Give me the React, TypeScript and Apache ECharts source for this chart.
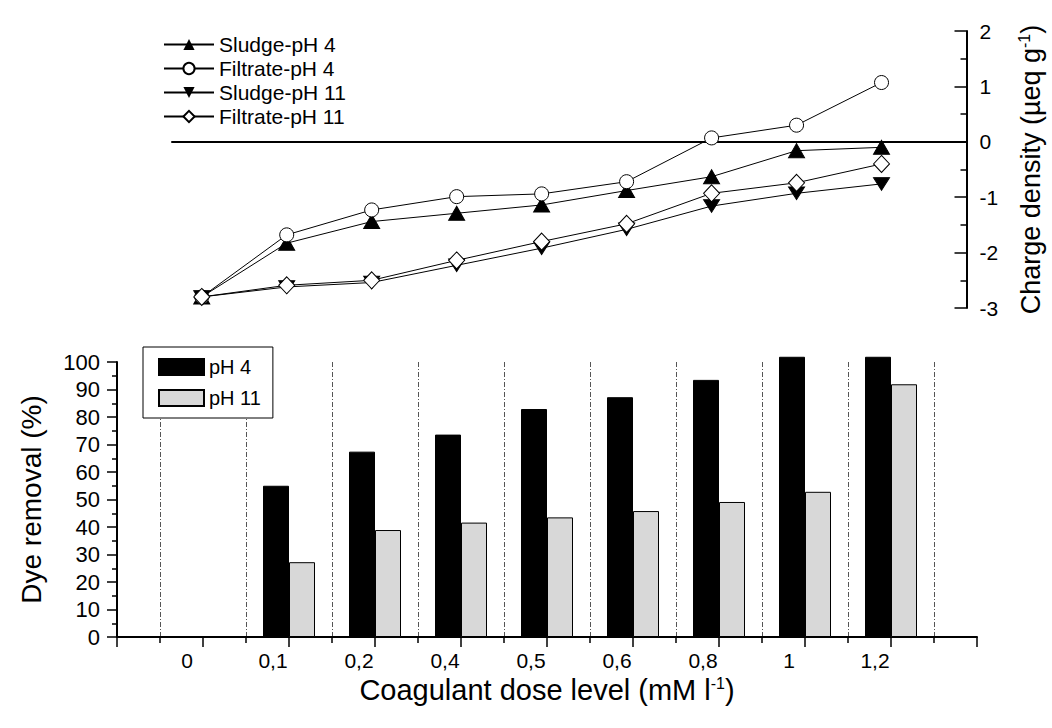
import React, { useEffect, useRef } from 'react';
import * as echarts from 'echarts';

const categories = ['0', '0,1', '0,2', '0,4', '0,5', '0,6', '0,8', '1', '1,2'];

const sludgePH4 = [-2.8, -1.83, -1.44, -1.29, -1.14, -0.88, -0.63, -0.16, -0.1];
const filtratePH4 = [-2.8, -1.68, -1.23, -0.99, -0.94, -0.72, 0.07, 0.3, 1.07];
const sludgePH11 = [-2.8, -2.62, -2.54, -2.23, -1.92, -1.58, -1.16, -0.93, -0.76];
const filtratePH11 = [-2.8, -2.59, -2.5, -2.14, -1.8, -1.48, -0.93, -0.74, -0.4];

const dyePH4 = [0, 55.0, 67.4, 73.6, 82.9, 87.2, 93.5, 101.9, 101.9];
const dyePH11 = [0, 27.2, 38.9, 41.6, 43.5, 45.8, 49.1, 52.8, 91.9];

const chargeTicks = [-3, -2, -1, 0, 1, 2];
const dyeTicks = [0, 10, 20, 30, 40, 50, 60, 70, 80, 90, 100];

const FONT = "'Liberation Sans', Arial, Helvetica, sans-serif";

function buildOption() {
  const lineBase = {
    type: 'line',
    xAxisIndex: 0,
    yAxisIndex: 0,
    lineStyle: { color: '#000', width: 1 },
    symbolKeepAspect: true,
  };
  const sup = { fontSize: 16, fontFamily: FONT, color: '#000', padding: [0, 0, 12, 0] };
  return {
    animation: false,
    backgroundColor: '#fff',
    textStyle: { fontFamily: FONT, color: '#000' },
    grid: [
      { left: 172, top: 31, width: 798, height: 277 },
      { left: 117, top: 362, width: 860, height: 275 },
    ],
    legend: [
      {
        data: ['Sludge-pH 4', 'Filtrate-pH 4', 'Sludge-pH 11', 'Filtrate-pH 11'],
        orient: 'vertical',
        left: 163,
        top: 34,
        padding: 0,
        itemWidth: 50,
        itemHeight: 14,
        itemGap: 3,
        textStyle: { fontSize: 21, fontFamily: FONT, color: '#000' },
      },
      {
        data: ['pH 4', 'pH 11'],
        orient: 'vertical',
        left: 143,
        top: 347,
        icon: 'rect',
        itemWidth: 45,
        itemHeight: 16,
        itemGap: 11,
        padding: [10, 12, 10, 15],
        borderColor: '#000',
        borderWidth: 1,
        borderRadius: 0,
        backgroundColor: '#fff',
        textStyle: { fontSize: 20, fontFamily: FONT, color: '#000' },
      },
    ],
    xAxis: [
      {
        gridIndex: 0,
        type: 'value',
        min: -0.35,
        max: 9.0,
        axisLine: { show: true, onZero: true, lineStyle: { color: '#000', width: 2 } },
        axisTick: { show: false },
        axisLabel: { show: false },
        splitLine: { show: false },
      },
      {
        gridIndex: 1,
        type: 'value',
        min: -1,
        max: 9,
        interval: 1,
        axisLine: { show: true, onZero: false, lineStyle: { color: '#000', width: 2 } },
        axisTick: { show: true, length: 10, lineStyle: { color: '#000', width: 1.5 } },
        minorTick: { show: true, splitNumber: 2, length: 6, lineStyle: { color: '#000', width: 1.5 } },
        minorSplitLine: { show: true, lineStyle: { color: '#555', width: 1, type: [5, 2, 1, 2] } },
        splitLine: { show: false },
        axisLabel: {
          color: '#000',
          fontSize: 21,
          fontFamily: FONT,
          margin: 13,
          padding: [0, 32, 0, 0],
          formatter: (v: number) => {
            const i = Math.round(v);
            return Math.abs(v - i) < 1e-6 && i >= 0 && i < categories.length ? categories[i] : '';
          },
        },
        name: 'Coagulant dose level (mM l{sup|-1})',
        nameLocation: 'middle',
        nameGap: 38,
        nameTextStyle: { fontSize: 29, fontFamily: FONT, color: '#000', rich: { sup } },
      },
    ],
    yAxis: [
      {
        gridIndex: 0,
        type: 'value',
        position: 'right',
        min: chargeTicks[0],
        max: chargeTicks[chargeTicks.length - 1],
        interval: 1,
        axisLine: { show: true, onZero: false, lineStyle: { color: '#000', width: 2 } },
        axisTick: { show: true, inside: true, length: 12, lineStyle: { color: '#000', width: 1.5 } },
        minorTick: { show: true, splitNumber: 2, length: 6, lineStyle: { color: '#000', width: 1.5 } },
        splitLine: { show: false },
        axisLabel: { color: '#000', fontSize: 21, fontFamily: FONT, margin: 13 },
        name: 'Charge density (µeq g{sup|-1})',
        nameLocation: 'middle',
        nameGap: 50,
        nameTextStyle: { fontSize: 27, fontFamily: FONT, color: '#000', rich: { sup } },
      },
      {
        gridIndex: 1,
        type: 'value',
        min: dyeTicks[0],
        max: dyeTicks[dyeTicks.length - 1],
        interval: 10,
        axisLine: { show: true, onZero: false, lineStyle: { color: '#000', width: 2 } },
        axisTick: { show: true, length: 10, lineStyle: { color: '#000', width: 1.5 } },
        minorTick: { show: true, splitNumber: 2, length: 5, lineStyle: { color: '#000', width: 1.5 } },
        splitLine: { show: false },
        axisLabel: { color: '#000', fontSize: 22, fontFamily: FONT, margin: 17 },
        name: 'Dye removal (%)',
        nameLocation: 'middle',
        nameGap: 72,
        nameTextStyle: { fontSize: 28, fontFamily: FONT, color: '#000' },
      },
    ],
    series: [
      {
        ...lineBase,
        name: 'Sludge-pH 4',
        symbol: 'triangle',
        symbolSize: [16, 14],
        itemStyle: { color: '#000', borderColor: '#000' },
        data: sludgePH4.map((v, i) => [i, v]),
      },
      {
        ...lineBase,
        name: 'Filtrate-pH 4',
        symbol: 'circle',
        symbolSize: 14,
        itemStyle: { color: '#fff', borderColor: '#000', borderWidth: 1 },
        data: filtratePH4.map((v, i) => [i, v]),
      },
      {
        ...lineBase,
        name: 'Sludge-pH 11',
        symbol: 'path://M0,0 L10,0 L5,9 Z',
        symbolSize: [16, 14],
        itemStyle: { color: '#000', borderColor: '#000' },
        data: sludgePH11.map((v, i) => [i, v]),
      },
      {
        ...lineBase,
        name: 'Filtrate-pH 11',
        symbol: 'diamond',
        symbolSize: [16, 17],
        itemStyle: { color: '#fff', borderColor: '#000', borderWidth: 1 },
        data: filtratePH11.map((v, i) => [i, v]),
      },
      {
        type: 'bar',
        name: 'pH 4',
        xAxisIndex: 1,
        yAxisIndex: 1,
        barWidth: 26,
        barGap: '0%',
        clip: false,
        itemStyle: { color: '#000', borderColor: '#000', borderWidth: 1 },
        data: dyePH4.map((v, i) => [i, v]),
      },
      {
        type: 'bar',
        name: 'pH 11',
        xAxisIndex: 1,
        yAxisIndex: 1,
        barWidth: 26,
        barGap: '0%',
        clip: false,
        itemStyle: { color: '#d8d8d8', borderColor: '#000', borderWidth: 1 },
        data: dyePH11.map((v, i) => [i, v]),
      },
    ],
  };
}

export default function App() {
  const ref = useRef<HTMLDivElement>(null);
  useEffect(() => {
    if (!ref.current) return;
    const chart = echarts.init(ref.current, null, { renderer: 'svg' });
    chart.setOption(buildOption() as any);
    return () => chart.dispose();
  }, []);
  return (
    <div
      ref={ref}
      style={{ position: 'absolute', left: 0, top: 0, width: 1052, height: 728, background: '#fff' }}
    />
  );
}
